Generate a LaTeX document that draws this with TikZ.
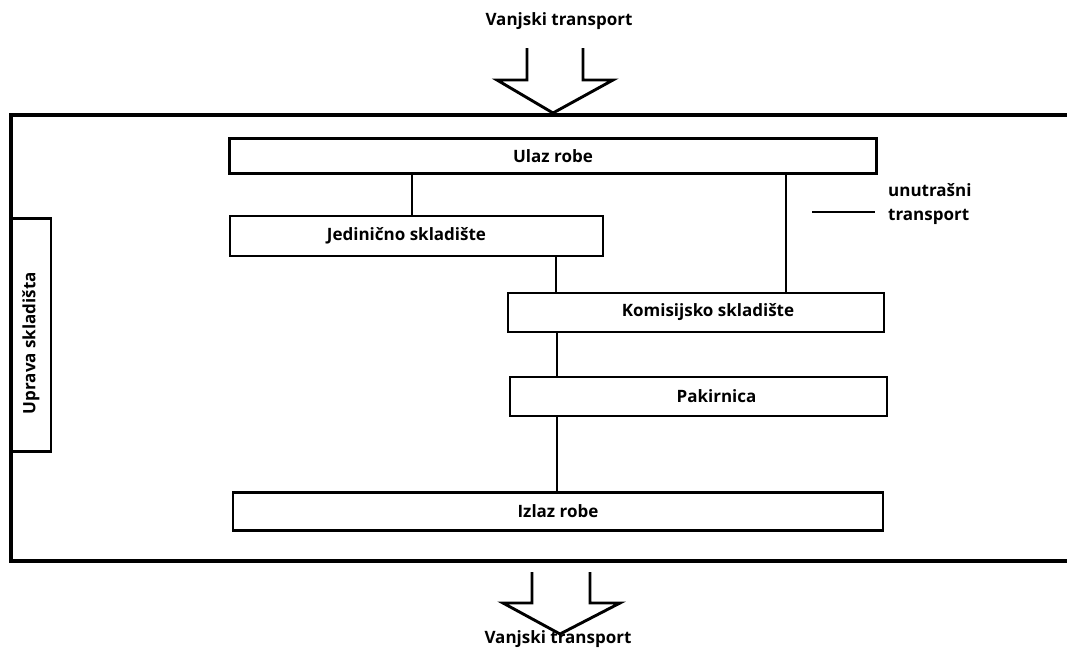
\documentclass[tikz,border=0pt]{standalone}
\usepackage{fontspec}
\setmainfont{Open Sans}
\begin{document}
\begin{tikzpicture}[x=1pt,y=-1pt,
  lw/.style={line width=2.9pt},
  box/.style={draw,lw,rectangle,inner sep=0pt,outer sep=0pt,font=\bfseries\fontsize{17}{24}\selectfont},
  lbl/.style={inner sep=0pt,font=\bfseries\fontsize{17}{24}\selectfont},
  conn/.style={lw}]
\useasboundingbox (0,0) rectangle (1067,651);
% outer frame (open to the right)
\draw[lw,line width=3.2pt] (1067,115) -- (11,115) -- (11,561) -- (1067,561);
% external transport arrows
\node[lbl] (vtop) at (559,21) {Vanjski transport};
\draw[lw,line join=miter] (527,48) -- (527,80) -- (497,80) -- (553,113) -- (613,80) -- (583,80) -- (583,48);
\draw[lw,line join=miter] (532,572) -- (532,603) -- (503,603) -- (560,634) -- (620,603) -- (590,603) -- (590,572);
\node[lbl] (vbot) at (558,639) {Vanjski transport};
% boxes
\node[box,minimum width=647pt,minimum height=35pt] (ulaz) at (553,156) {Ulaz robe};
\node[box,minimum width=373pt,minimum height=40pt] (jed) at (416.5,236) {Jedinično skladište\hspace*{20pt}};
\node[box,minimum width=376pt,minimum height=39pt] (kom) at (696,312.5) {\hspace*{24pt}Komisijsko skladište};
\node[box,minimum width=377pt,minimum height=39pt] (pak) at (698.5,396.5) {\hspace*{36pt}Pakirnica};
\node[box,minimum width=650pt,minimum height=38pt] (izlaz) at (558,511.5) {Izlaz robe};
\node[box,minimum width=40pt,minimum height=233pt] (uprava) at (31,335) {};
\node[lbl,rotate=90] (upravat) at (31,343) {Uprava skladišta};
% connectors
\draw[conn] (ulaz.south -| 412,0) -- (jed.north -| 412,0);
\draw[conn] (ulaz.south -| 786,0) -- (kom.north -| 786,0);
\draw[conn] (jed.south -| 556,0) -- (kom.north -| 556,0);
\draw[conn] (kom.south -| 557,0) -- (pak.north -| 557,0);
\draw[conn] (pak.south -| 557,0) -- (izlaz.north -| 557,0);
% internal transport label
\coordinate (ta) at (812,212);
\coordinate (tb) at (875,212);
\draw[conn] (ta) -- (tb);
\node[lbl,anchor=west,align=left] (ut) at (888,204) {unutrašni\\transport};
\end{tikzpicture}
\end{document}
